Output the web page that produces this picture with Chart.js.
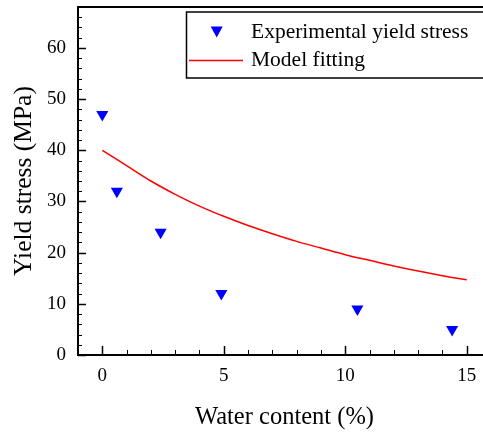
<!DOCTYPE html>
<html>
<head>
<meta charset="utf-8">
<script src="https://cdn.jsdelivr.net/npm/chart.js@4/dist/chart.umd.min.js"></script>
<style>
  html, body { margin: 0; padding: 0; background: #fff; overflow: hidden; }
  #wrap { width: 500px; height: 436px; }
</style>
</head>
<body>
<div id="wrap"><canvas id="chart" width="500" height="436"></canvas></div>
<script>
// measured points
const waterContent = [0, 0.6, 2.4, 4.9, 10.5, 14.4];
const yieldStress = [47, 32, 24, 12, 9, 5];

// model curve
const fitWater = [0, 1, 2, 3, 4, 5, 6, 7, 8, 9, 10, 11, 12, 13, 14, 15];
const fitStress = [40.0, 37.0, 34.0, 31.4, 29.1, 27.1, 25.3, 23.7, 22.2, 20.9, 19.6, 18.5, 17.4, 16.4, 15.5, 14.7];

const xTicks = [0, 5, 10, 15];
const yTicks = [0, 10, 20, 30, 40, 50, 60];

const serif = "'Liberation Serif', 'Times New Roman', serif";

// frame plus inward major/minor ticks, Origin style
const frameTicks = {
    id: 'frameTicks',
    afterDatasetsDraw(chart) {
        const { ctx, chartArea: a, scales: { x, y } } = chart;
        ctx.save();
        ctx.strokeStyle = '#000';
        for (let v = -1; v <= 16; v++) {
            const px = Math.round(x.getPixelForValue(v)) + 0.5;
            const len = v % 5 === 0 ? 9 : 5;
            ctx.lineWidth = v % 5 === 0 ? 1.5 : 1;
            ctx.beginPath();
            ctx.moveTo(px, a.bottom);
            ctx.lineTo(px, a.bottom - len);
            ctx.stroke();
        }
        for (let v = 0; v <= 68; v += 2) {
            const py = Math.round(y.getPixelForValue(v)) + 0.5;
            const len = v % 10 === 0 ? 8 : 4;
            ctx.lineWidth = v % 10 === 0 ? 1.5 : 1;
            ctx.beginPath();
            ctx.moveTo(a.left, py);
            ctx.lineTo(a.left + len, py);
            ctx.stroke();
        }
        ctx.lineWidth = 2;
        ctx.strokeRect(a.left, a.top, a.right - a.left, a.bottom - a.top);
        ctx.restore();
    }
};

// boxed legend in the upper right corner
const boxLegend = {
    id: 'boxLegend',
    afterDraw(chart) {
        const ctx = chart.ctx;
        ctx.save();
        ctx.fillStyle = '#fff';
        ctx.fillRect(186.5, 12, 330, 66);
        ctx.strokeStyle = '#000';
        ctx.lineWidth = 1.5;
        ctx.strokeRect(186.5, 12, 330, 66);

        // marker
        ctx.fillStyle = '#0000ff';
        ctx.beginPath();
        ctx.moveTo(210.7, 26.5);
        ctx.lineTo(222.7, 26.5);
        ctx.lineTo(216.7, 37.5);
        ctx.closePath();
        ctx.fill();

        // line
        ctx.strokeStyle = '#ff0000';
        ctx.lineWidth = 1.5;
        ctx.beginPath();
        ctx.moveTo(189, 60.5);
        ctx.lineTo(243, 60.5);
        ctx.stroke();

        ctx.fillStyle = '#000';
        ctx.font = '21.5px ' + serif;
        ctx.textBaseline = 'middle';
        ctx.textAlign = 'left';
        ctx.fillText('Experimental yield stress', 251, 32);
        ctx.fillText('Model fitting', 251, 60);
        ctx.restore();
    }
};

new Chart(document.getElementById('chart'), {
    type: 'line',
    data: {
        datasets: [
            {
                label: 'Experimental yield stress',
                data: waterContent.map((v, i) => ({ x: v, y: yieldStress[i] })),
                showLine: false,
                pointStyle: 'triangle',
                rotation: 180,
                pointRadius: 7,
                pointBackgroundColor: '#0000ff',
                pointBorderWidth: 0,
                borderColor: '#0000ff',
            },
            {
                label: 'Model fitting',
                data: fitWater.map((v, i) => ({ x: v, y: fitStress[i] })),
                borderColor: '#ff0000',
                borderWidth: 1.5,
                pointRadius: 0,
                cubicInterpolationMode: 'monotone',
            },
        ],
    },
    options: {
        responsive: false,
        animation: false,
        devicePixelRatio: 1,
        layout: { padding: { top: 7, right: 9, left: 0, bottom: 0 } },
        plugins: {
            legend: { display: false },
            tooltip: { enabled: false },
        },
        scales: {
            x: {
                type: 'linear',
                min: -1,
                max: 16,
                afterBuildTicks: s => { s.ticks = xTicks.map(v => ({ value: v })); },
                afterFit: s => { s.height = 81; s.paddingLeft = 0; s.paddingRight = 0; },
                grid: { display: false, drawTicks: false },
                border: { display: false },
                ticks: { color: '#000', font: { family: serif, size: 19 }, padding: 10, maxRotation: 0 },
                title: {
                    display: true,
                    text: 'Water content (%)',
                    color: '#000',
                    font: { family: serif, size: 24.5 },
                    padding: { top: 0, bottom: 4 },
                },
            },
            y: {
                min: 0,
                max: 68,
                afterBuildTicks: s => { s.ticks = yTicks.map(v => ({ value: v })); },
                afterFit: s => { s.width = 78; s.paddingTop = 0; s.paddingBottom = 0; },
                grid: { display: false, drawTicks: false },
                border: { display: false },
                ticks: { color: '#000', font: { family: serif, size: 19 }, padding: 12 },
                title: {
                    display: true,
                    text: 'Yield stress (MPa)',
                    color: '#000',
                    font: { family: serif, size: 25.5 },
                    padding: { top: 9, bottom: 0 },
                },
            },
        },
    },
    plugins: [frameTicks, boxLegend],
});
</script>
</body>
</html>
